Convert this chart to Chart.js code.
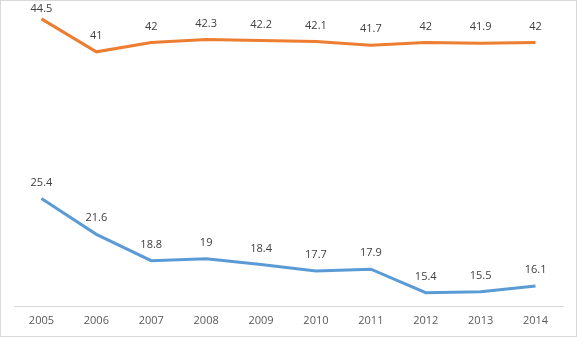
<!DOCTYPE html>
<html>
<head>
<meta charset="utf-8">
<script src="https://cdn.jsdelivr.net/npm/chart.js@4/dist/chart.umd.min.js"></script>
<style>
  html, body { margin: 0; padding: 0; background: #fff; }
  #wrap {
    width: 577px; height: 337px;
    box-sizing: border-box;
    border: 1px solid #d9d9d9;
  }
  #chart { display: block; }
</style>
</head>
<body>
<div id="wrap"><canvas id="chart" width="575" height="335"></canvas></div>
<script>
const years = ['2005', '2006', '2007', '2008', '2009', '2010', '2011', '2012', '2013', '2014'];
const orangeValues = [44.5, 41, 42, 42.3, 42.2, 42.1, 41.7, 42, 41.9, 42];
const blueValues = [25.4, 21.6, 18.8, 19, 18.4, 17.7, 17.9, 15.4, 15.5, 16.1];

// value labels above each point
const pointLabels = {
  id: 'pointLabels',
  afterDatasetsDraw(chart) {
    const ctx = chart.ctx;
    ctx.save();
    ctx.font = '11px "Open Sans", sans-serif';
    ctx.fillStyle = '#404040';
    ctx.textAlign = 'center';
    ctx.textBaseline = 'middle';
    chart.data.datasets.forEach((ds, i) => {
      chart.getDatasetMeta(i).data.forEach((pt, j) => {
        const y = Math.max(pt.y - 16, 8);
        ctx.fillText(String(ds.data[j]), pt.x, y);
      });
    });
    ctx.restore();
  }
};

new Chart(document.getElementById('chart'), {
  type: 'line',
  data: {
    labels: years,
    datasets: [
      {
        data: orangeValues,
        borderColor: '#ED7D31',
        borderWidth: 3,
        pointRadius: 0,
        tension: 0,
        clip: false
      },
      {
        data: blueValues,
        borderColor: '#5B9BD5',
        borderWidth: 3,
        pointRadius: 0,
        tension: 0,
        clip: false
      }
    ]
  },
  options: {
    responsive: false,
    animation: false,
    layout: { padding: { left: 13, right: 13, top: 0, bottom: 2 } },
    plugins: {
      legend: { display: false },
      tooltip: { enabled: false }
    },
    scales: {
      x: {
        offset: true,
        grid: { display: false, drawTicks: false },
        border: { display: true, color: '#d9d9d9', width: 1 },
        ticks: {
          color: '#595959',
          padding: 7,
          font: { family: '"Open Sans", sans-serif', size: 11 }
        }
      },
      y: {
        display: false,
        min: 13.9,
        max: 46.4
      }
    }
  },
  plugins: [pointLabels]
});
</script>
</body>
</html>
